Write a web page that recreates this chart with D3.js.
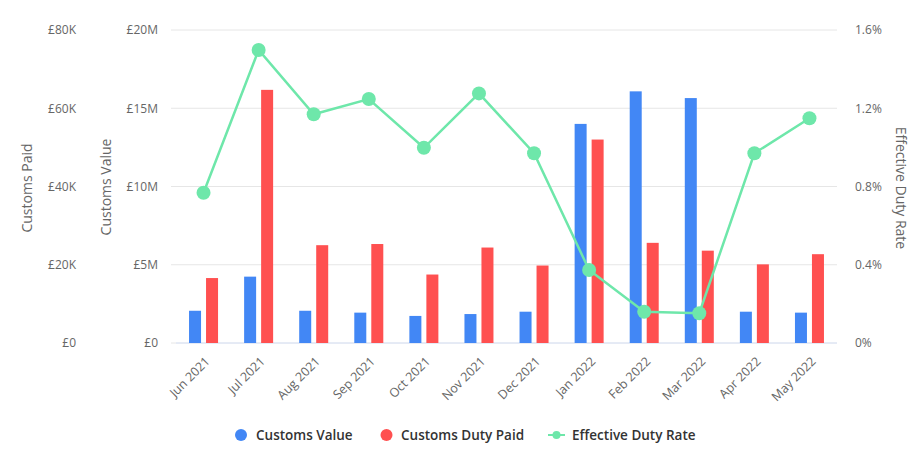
<!DOCTYPE html>
<html><head><meta charset="utf-8">
<script src="https://cdn.jsdelivr.net/npm/d3@7"></script>
<style>body{margin:0;background:#fff;font-family:"Open Sans",sans-serif;}</style>
</head><body><svg id="c" width="923" height="467"></svg>
<script>
const months = ["Jun 2021","Jul 2021","Aug 2021","Sep 2021","Oct 2021","Nov 2021","Dec 2021","Jan 2022","Feb 2022","Mar 2022","Apr 2022","May 2022"];
const customsValue = [2.06e6,4.24e6,2.06e6,1.94e6,1.73e6,1.85e6,2.0e6,14.0e6,16.08e6,15.65e6,2.0e6,1.94e6];
const customsPaid = [16600,64700,25000,25300,17500,24400,19800,52000,25600,23600,20100,22700];
const dutyRate = [0.768,1.498,1.169,1.247,0.998,1.276,0.970,0.373,0.160,0.152,0.970,1.149];
const paidTicks = [0,20000,40000,60000,80000];
const valueTicks = [0,5e6,10e6,15e6,20e6];
const rateTicks = [0,0.4,0.8,1.2,1.6];

const svg = d3.select("#c");
const L=176, R=837, T=30, B=343;
const x = d3.scaleBand().domain(months).range([L,R]);
const yPaid = d3.scaleLinear().domain([0,80000]).range([B,T]);
const yVal = d3.scaleLinear().domain([0,20e6]).range([B,T]);
const yRate = d3.scaleLinear().domain([0,1.6]).range([B,T]);
const txt="#666";

// gridlines
svg.append("g").selectAll("line").data(valueTicks).join("line")
  .attr("x1",L).attr("x2",R).attr("y1",d=>yVal(d)).attr("y2",d=>yVal(d))
  .attr("stroke",d=>d===0?"#ccd6eb":"#e6e6e6").attr("stroke-width",1);

// axes
const fmtPaid = d=> d===0?"£0":"£"+(d/1000)+"K";
const fmtVal = d=> d===0?"£0":"£"+(d/1e6)+"M";
const fmtRate = d=> d===0?"0%":d.toFixed(1)+"%";
function styleAxis(g){g.select(".domain").remove();g.selectAll("line").remove();
  g.selectAll("text").attr("fill",txt).attr("font-size",12).attr("font-family","Open Sans");}
svg.append("g").attr("transform","translate(82,0)")
  .call(d3.axisLeft(yPaid).tickValues(paidTicks).tickFormat(fmtPaid).tickSize(0).tickPadding(6)).call(styleAxis);
svg.append("g").attr("transform","translate(164,0)")
  .call(d3.axisLeft(yVal).tickValues(valueTicks).tickFormat(fmtVal).tickSize(0).tickPadding(6)).call(styleAxis);
svg.append("g").attr("transform","translate(849,0)")
  .call(d3.axisRight(yRate).tickValues(rateTicks).tickFormat(fmtRate).tickSize(0).tickPadding(6)).call(styleAxis);

// small ticks on left
svg.append("g").selectAll("line").data(valueTicks).join("line")
  .attr("x1",L-5).attr("x2",L).attr("y1",d=>yVal(d)).attr("y2",d=>yVal(d)).attr("stroke","#e6e6e6");

// axis titles
const titleAt=(tx,ty,rot,t)=>svg.append("text").attr("transform",`translate(${tx},${ty}) rotate(${rot})`)
  .attr("text-anchor","middle").attr("fill",txt).attr("font-size",14).attr("font-family","Open Sans").text(t);
titleAt(32,188,-90,"Customs Paid");
titleAt(111,187,-90,"Customs Value");
titleAt(896,188,90,"Effective Duty Rate");

// x labels
svg.append("g").selectAll("text").data(months).join("text")
  .attr("transform",d=>`translate(${x(d)+x.bandwidth()/2+4},${B+16}) rotate(-45)`)
  .attr("text-anchor","end").attr("dy","0.35em").attr("fill",txt).attr("font-size",12.5)
  .attr("font-family","Open Sans").text(d=>d);

// bars
const bw=12, gap=5;
svg.append("g").selectAll("rect").data(months).join("rect")
  .attr("x",d=>x(d)+x.bandwidth()/2-gap/2-bw).attr("width",bw)
  .attr("y",(d,i)=>yVal(customsValue[i])).attr("height",(d,i)=>B-yVal(customsValue[i]))
  .attr("fill","#4287f5");
svg.append("g").selectAll("rect").data(months).join("rect")
  .attr("x",d=>x(d)+x.bandwidth()/2+gap/2).attr("width",bw)
  .attr("y",(d,i)=>yPaid(customsPaid[i])).attr("height",(d,i)=>B-yPaid(customsPaid[i]))
  .attr("fill","#ff5050");

// line
const cx=d=>x(d)+x.bandwidth()/2;
const line=d3.line().x((d,i)=>cx(months[i])).y(d=>yRate(d));
svg.append("path").datum(dutyRate).attr("d",line).attr("fill","none")
  .attr("stroke","#6ee7aa").attr("stroke-width",2.5);
svg.append("g").selectAll("circle").data(dutyRate).join("circle")
  .attr("cx",(d,i)=>cx(months[i])).attr("cy",d=>yRate(d)).attr("r",7).attr("fill","#6ee7aa");

// legend
const lg=svg.append("g").attr("font-family","Open Sans").attr("font-size",13.5).attr("fill","#333");
const ly=435;
lg.append("circle").attr("cx",241).attr("cy",ly).attr("r",6).attr("fill","#4287f5");
lg.append("text").attr("x",256).attr("y",ly).attr("dy","0.35em").attr("fill","#333").attr("font-weight",600).text("Customs Value");
lg.append("circle").attr("cx",386.5).attr("cy",ly).attr("r",6).attr("fill","#ff5050");
lg.append("text").attr("x",401).attr("y",ly).attr("dy","0.35em").attr("fill","#333").attr("font-weight",600).text("Customs Duty Paid");
lg.append("line").attr("x1",548).attr("x2",565).attr("y1",ly).attr("y2",ly).attr("stroke","#6ee7aa").attr("stroke-width",2);
lg.append("circle").attr("cx",556.5).attr("cy",ly).attr("r",4).attr("fill","#6ee7aa");
lg.append("text").attr("x",572).attr("y",ly).attr("dy","0.35em").attr("fill","#333").attr("font-weight",600).text("Effective Duty Rate");
</script></body></html>
